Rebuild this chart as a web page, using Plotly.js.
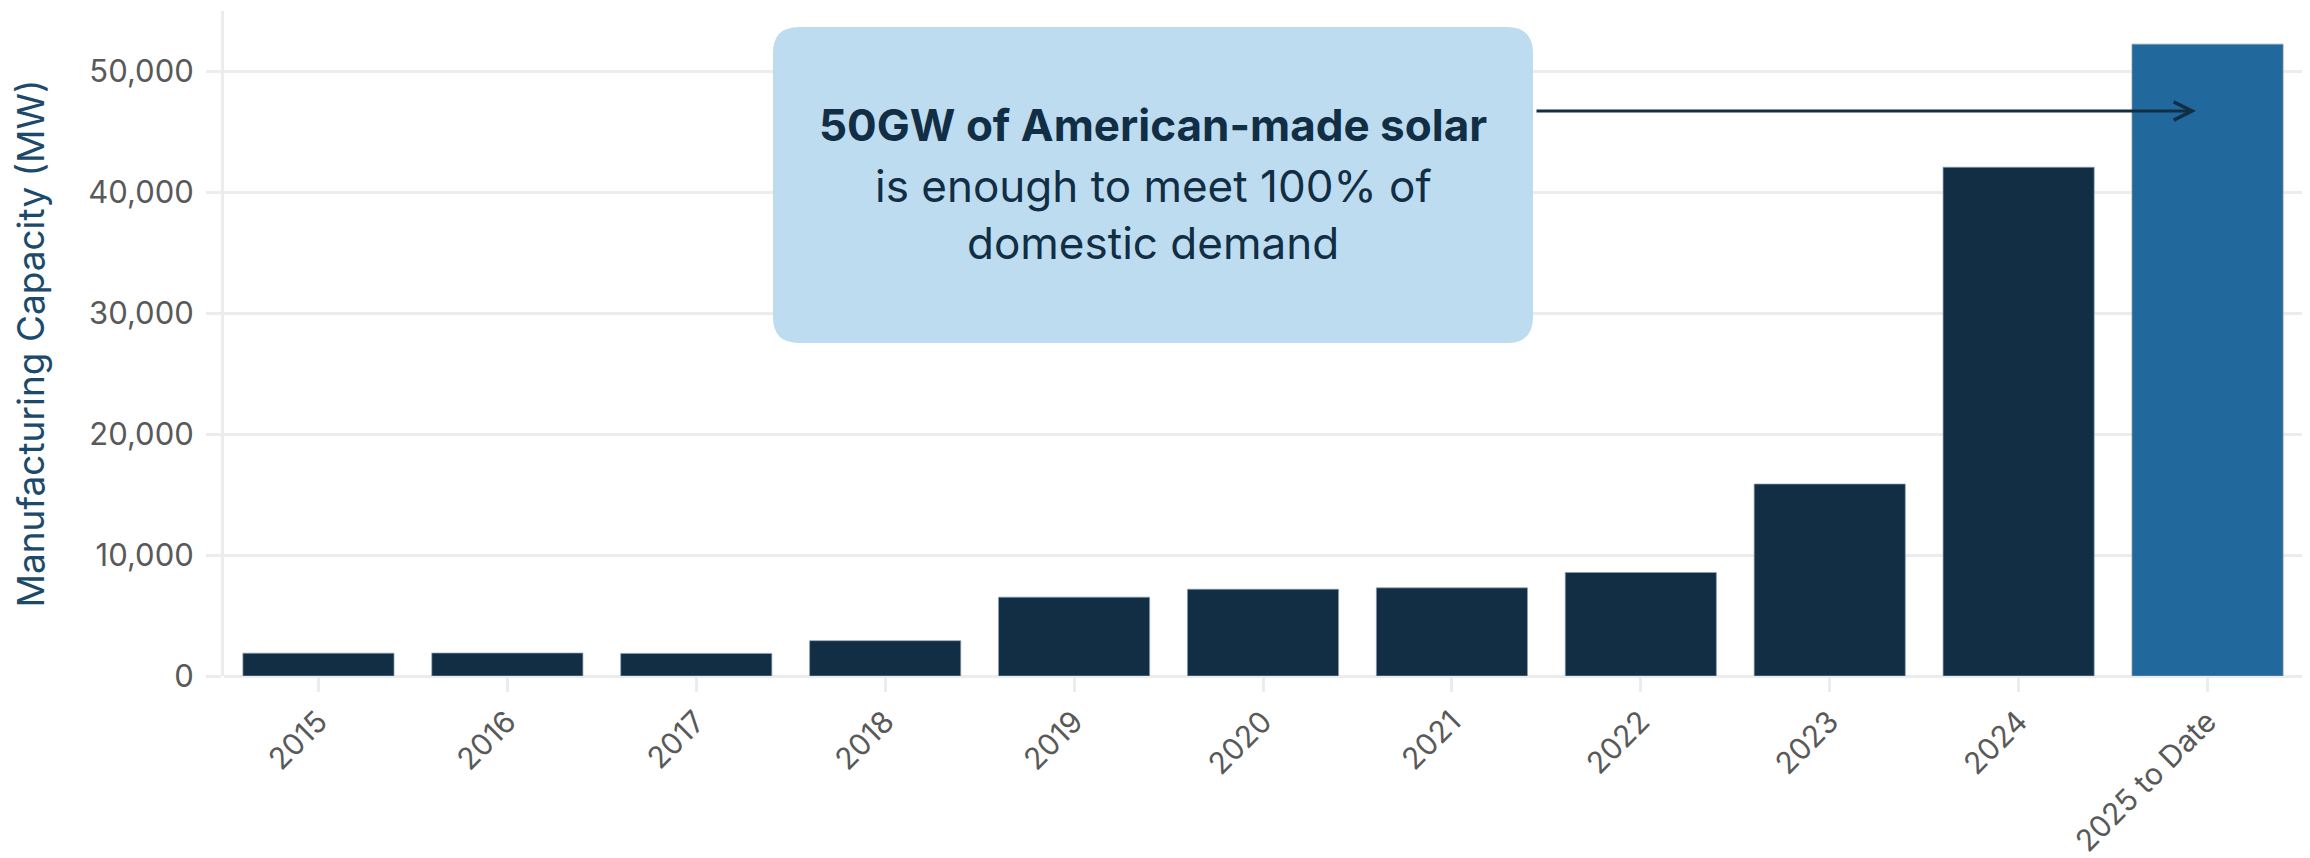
<!DOCTYPE html>
<html>
<head>
<meta charset="utf-8">
<script src="https://cdn.plot.ly/plotly-3.0.1.min.js"></script>
<style>html,body{margin:0;padding:0;background:#fff;}#chart{width:2310px;height:858px;}</style>
</head>
<body>
<div id="chart"></div>
<script>
// ---- data ----
const categories = ['2015','2016','2017','2018','2019','2020','2021','2022','2023','2024','2025 to Date'];
const capacityMW = [1890, 1900, 1870, 2920, 6520, 7180, 7290, 8560, 15880, 42080, 52260];
const barColors = ['#112e45','#112e45','#112e45','#112e45','#112e45','#112e45','#112e45','#112e45','#112e45','#112e45','#21699c'];
const yTickVals = [0, 10000, 20000, 30000, 40000, 50000];
const yAxisTitle = 'Manufacturing Capacity (MW)';
const calloutBold = '50GW of American-made solar';
const calloutLine2 = 'is enough to meet 100% of';
const calloutLine3 = 'domestic demand';

// ---- layout helpers (pixel -> paper) ----
const W = 2310, H = 858;
const M = {l: 224, r: 8, t: 11, b: 182};
const PW = W - M.l - M.r, PH = H - M.t - M.b;
const px = x => (x - M.l) / PW;
const py = y => 1 - (y - M.t) / PH;

// rounded callout box
const bx0 = 773, bx1 = 1533, by0 = 27, by1 = 343, r = 26;
function P(x, y) { return px(x).toFixed(5) + ',' + py(y).toFixed(5); }
const boxPath = 'M' + P(bx0 + r, by0) + ' L' + P(bx1 - r, by0) + ' Q' + P(bx1, by0) + ' ' + P(bx1, by0 + r) +
  ' L' + P(bx1, by1 - r) + ' Q' + P(bx1, by1) + ' ' + P(bx1 - r, by1) +
  ' L' + P(bx0 + r, by1) + ' Q' + P(bx0, by1) + ' ' + P(bx0, by1 - r) +
  ' L' + P(bx0, by0 + r) + ' Q' + P(bx0, by0) + ' ' + P(bx0 + r, by0) + ' Z';

const gridC = '#ececec';
const yTickFont = {family: 'Inter, sans-serif', size: 31, color: '#595959'};
const xTickFont = {family: 'Inter, sans-serif', size: 30, color: '#595959'};
const boxFont = {family: 'Inter, sans-serif', size: 44, color: '#112e45'};
const cx = px((bx0 + bx1) / 2);

const trace = {
  type: 'bar',
  x: categories,
  y: capacityMW,
  marker: {color: barColors, line: {color: 'rgba(140,160,180,0.7)', width: 1}},
  hoverinfo: 'x+y'
};

const layout = {
  width: W, height: H,
  margin: M,
  paper_bgcolor: '#ffffff', plot_bgcolor: '#ffffff',
  showlegend: false,
  bargap: 0.2,
  xaxis: {
    type: 'category',
    showgrid: false, showline: false, zeroline: false,
    ticks: 'outside', ticklen: 15, tickwidth: 3, tickcolor: gridC,
    tickangle: -45, tickfont: xTickFont
  },
  yaxis: {
    range: [0, 55000],
    tickvals: yTickVals, tickformat: ',',
    showgrid: true, gridcolor: gridC, gridwidth: 3,
    zeroline: true, zerolinecolor: gridC, zerolinewidth: 3,
    showline: true, linecolor: gridC, linewidth: 3,
    ticks: 'outside', ticklen: 15, tickwidth: 3, tickcolor: gridC,
    tickfont: yTickFont, ticklabelstandoff: 6
  },
  shapes: [{
    type: 'path', xref: 'paper', yref: 'paper', path: boxPath,
    fillcolor: '#bddcf0', line: {width: 0}, layer: 'above'
  }],
  annotations: [
    {xref: 'paper', yref: 'paper', x: px(30), y: 0.5, text: yAxisTitle, textangle: -90,
     showarrow: false, xanchor: 'center', yanchor: 'middle',
     font: {family: 'Inter, sans-serif', size: 37, color: '#1c4a6b'}},
    {xref: 'paper', yref: 'paper', x: cx, y: py(125), text: '<b>' + calloutBold + '</b>',
     showarrow: false, xanchor: 'center', yanchor: 'middle', font: boxFont},
    {xref: 'paper', yref: 'paper', x: cx, y: py(186), text: calloutLine2,
     showarrow: false, xanchor: 'center', yanchor: 'middle', font: boxFont},
    {xref: 'paper', yref: 'paper', x: cx, y: py(243), text: calloutLine3,
     showarrow: false, xanchor: 'center', yanchor: 'middle', font: boxFont},
    {xref: 'paper', yref: 'paper', x: px(2196), y: py(111), text: '',
     showarrow: true, axref: 'pixel', ayref: 'pixel', ax: -(2196 - 1535), ay: 0,
     arrowhead: 5, arrowsize: 1.2, arrowwidth: 3, arrowcolor: '#112e45', standoff: 0}
  ]
};

Plotly.newPlot('chart', [trace], layout, {displayModeBar: false, staticPlot: true});
</script>
</body>
</html>
